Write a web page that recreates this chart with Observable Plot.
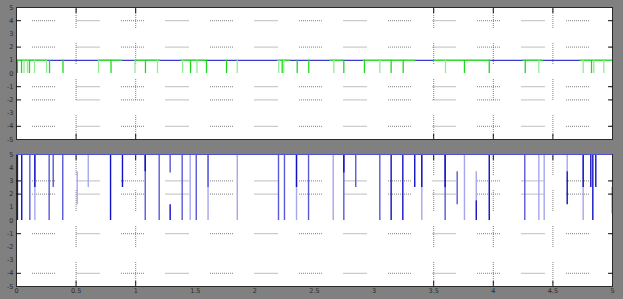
<!DOCTYPE html>
<html><head><meta charset="utf-8">
<script src="https://cdn.jsdelivr.net/npm/d3@7"></script>
<script src="https://cdn.jsdelivr.net/npm/@observablehq/plot@0.6"></script>
<style>
html,body{margin:0;padding:0;background:#808080;width:623px;height:299px;overflow:hidden;}
#c svg{display:block;}
</style></head><body><div id="c"></div>
<script>
// axes
const xTicks = [0, 0.5, 1, 1.5, 2, 2.5, 3, 3.5, 4, 4.5, 5];
const xTickLabels = ["0", "0.5", "1", "1.5", "2", "2.5", "3", "3.5", "4", "4.5", "5"];
const yTicks = [5, 4, 3, 2, 1, 0, -1, -2, -3, -4, -5];
const xGrid = [0.5, 1, 3.5, 4, 4.5];
const topGrid = [4, 2, -1, -2, -4];
const bottomGrid = [3, 2, -1, -4];

// top panel: signal sits at 1 and drops to 0
const topHigh = 1;
const topLow = 0;
const greenDropT = [0.008, 0.042, 0.063, 0.092, 0.109, 0.151, 0.252, 0.277, 0.390, 0.688, 0.793, 0.994, 1.082, 1.183, 1.393, 1.460, 1.514, 1.594, 1.762, 1.852, 2.200, 2.229, 2.242, 2.355, 2.452, 2.662, 2.746, 2.919, 3.048, 3.143, 3.244, 3.599, 3.758, 3.966, 4.268, 4.382, 4.754, 4.824, 4.843, 4.927];
const greenDropLevel = [1, 1, 2, 2, 1, 2, 2, 1, 1, 2, 1, 2, 1, 2, 2, 1, 2, 1, 1, 2, 2, 1, 2, 1, 1, 2, 1, 1, 2, 1, 1, 2, 1, 1, 1, 2, 2, 1, 2, 2];
const greenSpanStart = [0, 0.69, 1.0, 1.38, 2.19, 2.63, 2.91, 3.50, 4.25, 4.73];
const greenSpanEnd = [0.26, 0.89, 1.21, 1.59, 2.30, 2.74, 3.35, 3.98, 4.42, 5.0];

// bottom panel: vertical excursions
const bottomTop = 5;
const blueT = [0.008, 0.044, 0.112, 0.154, 0.154, 0.274, 0.308, 0.388, 0.509, 0.602, 0.789, 0.889, 1.080, 1.080, 1.197, 1.289, 1.289, 1.390, 1.457, 1.508, 1.607, 1.607, 1.852, 2.198, 2.248, 2.349, 2.349, 2.450, 2.657, 2.746, 2.746, 2.846, 3.048, 3.143, 3.241, 3.341, 3.400, 3.400, 3.596, 3.596, 3.697, 3.758, 3.857, 3.857, 3.966, 4.264, 4.382, 4.427, 4.620, 4.620, 4.754, 4.754, 4.818, 4.835, 4.860, 4.996];
const blueHigh = [5, 5, 5, 5, 5, 5, 5, 5, 3.7, 5, 5, 5, 5, 5, 5, 5, 1.2, 5, 5, 5, 5, 5, 5, 5, 5, 5, 5, 5, 5, 5, 5, 5, 5, 5, 5, 5, 5, 5, 5, 5, 3.7, 5, 3.7, 1.5, 5, 5, 5, 5, 5, 3.7, 5, 5, 5, 5, 5, 2.5];
const blueLow = [0, 0, 0, 0, 2.5, 0, 2.5, 0, 1.2, 2.5, 0, 2.5, 0, 3.7, 0, 3.6, 0, 0, 0, 0, 0, 2.5, 0, 0, 0, 0, 2.5, 0, 0, 0, 3.6, 2.5, 0, 0, 0, 2.5, 0, 2.5, 0, 2.5, 1.2, 0, 1.5, 0, 0, 0, 0, 0, 3.7, 1.2, 0, 2.5, 2.5, 0, 2.5, 0.5];
const blueLevel = [1, 1, 2, 3, 1, 2, 2, 2, 3, 3, 1, 1, 2, 1, 2, 2, 1, 2, 3, 2, 3, 2, 3, 2, 2, 3, 1, 2, 3, 2, 1, 2, 2, 1, 1, 1, 3, 1, 2, 1, 2, 3, 3, 1, 1, 2, 3, 3, 3, 1, 3, 1, 1, 1, 1, 3];

const W = 623, ML = 16, MR = 11;
const fontStyle = {background: "transparent", fontSize: "6.5px", fontFamily: "DejaVu Sans, sans-serif", color: "#2a2a2a", overflow: "visible"};

// dotted runs separated by gaps (style helper)
function dottedRuns(run, gap) {
  const a = [];
  for (let i = 0; i < run / 2; i++) a.push(1, 1);
  a[a.length - 1] = 1 + gap;
  return a.join(",");
}
const gridH = {stroke: "#6a6a6a", strokeWidth: 1, strokeDasharray: dottedRuns(24, 20.5), strokeDashoffset: 28.5, strokeOpacity: 0.85};
const gridV = {stroke: "#6a6a6a", strokeWidth: 1, strokeDasharray: dottedRuns(22, 14), strokeOpacity: 0.85};

function axesMarks(grid, withXLabels) {
  const m = [
    Plot.axisY(yTicks, {anchor: "left", tickSize: 0, tickPadding: 3, tickFormat: d => String(d), label: null, fill: "#2a2a2a"}),
    Plot.axisY(grid, {anchor: "left", tickSize: 5, dx: 5, tickFormat: () => "", label: null, stroke: "#111"}),
    Plot.axisY(grid, {anchor: "right", tickSize: 5, dx: -5, tickFormat: () => "", label: null, stroke: "#111"}),
    Plot.axisX(xGrid, {anchor: "bottom", tickSize: 5, dy: -5, tickFormat: () => "", label: null, stroke: "#111"}),
    Plot.axisX(xGrid, {anchor: "top", tickSize: 5, dy: 5, tickFormat: () => "", label: null, stroke: "#111"})
  ];
  if (withXLabels) m.push(Plot.axisX(xTicks, {anchor: "bottom", tickSize: 0, tickPadding: 2, tickFormat: d => xTickLabels[xTicks.indexOf(d)], label: null, fill: "#2a2a2a"}));
  return m;
}

// top panel data
const drops = greenDropT.map((t, i) => ({t, level: greenDropLevel[i]})).sort((a, b) => b.level - a.level);
const spans = greenSpanStart.map((s, i) => ({s, e: greenSpanEnd[i]}));

const topChart = Plot.plot({
  width: W, height: 147, marginLeft: ML, marginRight: MR, marginTop: 7, marginBottom: 8,
  style: fontStyle,
  x: {domain: [0, 5], axis: null},
  y: {domain: [-5, 5], axis: null},
  color: {type: "ordinal", domain: [1, 2], range: ["#1fd81f", "#92ec92"]},
  marks: [
    Plot.frame({fill: "white"}),
    Plot.ruleY(topGrid, gridH),
    Plot.ruleX(xGrid, gridV),
    Plot.ruleY([topHigh], {stroke: "#3a3acc", strokeWidth: 1.3}),
    Plot.ruleY(spans, {y: () => topHigh, x1: "s", x2: "e", stroke: "#35dc35", strokeWidth: 1.3}),
    Plot.ruleX(drops, {x: "t", y1: () => topLow, y2: () => topHigh, stroke: "level", strokeWidth: 1.3}),
    Plot.frame({stroke: "#2a2a2a"}),
    ...axesMarks(topGrid, false)
  ]
});

// bottom panel data
const lines = blueT.map((t, i) => ({t, hi: blueHigh[i], lo: blueLow[i], level: blueLevel[i]})).sort((a, b) => b.level - a.level);

const bottomChart = Plot.plot({
  width: W, height: 152, marginLeft: ML, marginRight: MR, marginTop: 7, marginBottom: 13,
  style: fontStyle,
  x: {domain: [0, 5], axis: null},
  y: {domain: [-5, 5], axis: null},
  color: {type: "ordinal", domain: [1, 2, 3], range: ["#1010c4", "#5858d8", "#a6a6ef"]},
  marks: [
    Plot.frame({fill: "white"}),
    Plot.ruleY(bottomGrid, gridH),
    Plot.ruleX(xGrid, gridV),
    Plot.ruleX(lines, {x: "t", y1: "lo", y2: "hi", stroke: "level", strokeWidth: 1.4}),
    Plot.frame({stroke: "#2a2a2a"}),
    Plot.ruleY([bottomTop], {stroke: "#5050d0", strokeWidth: 1.2}),
    ...axesMarks(bottomGrid, true)
  ]
});

document.getElementById("c").append(topChart, bottomChart);
</script></body></html>
